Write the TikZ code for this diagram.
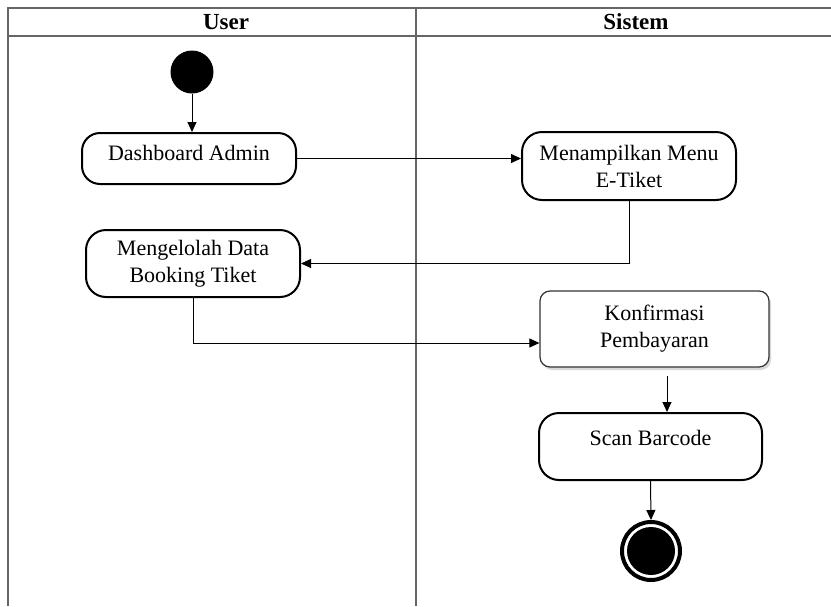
\documentclass[tikz,border=0pt]{standalone}
\usepackage{fontspec}
\setmainfont[Ligatures=NoCommon]{Liberation Serif}
\usetikzlibrary{arrows.meta,shadows}
\tikzset{
    aksi/.style={draw, line width=1pt, rounded corners=9pt, align=center, minimum width=107pt, inner xsep=2pt, font=\fontsize{11}{13.5}\selectfont}, % kotak aktivitas
    alur/.style={-{Triangle[length=5pt,width=4.5pt]}, line width=0.5pt}, % panah alur
    jalur/.style={draw=black!60, line width=0.8pt}
}

\begin{document}
\begin{tikzpicture}[x=0.5pt, y=-0.5pt]
    \useasboundingbox (0,0) rectangle (831,606);

    % swimlane
    \draw[jalur] (8,606) -- (8,8) -- (831,8);
    \draw[jalur] (8,36) -- (831,36);
    \draw[jalur] (416,8) -- (416,606);
    \node[font=\fontsize{11.5}{13}\selectfont\bfseries] (user) at (226,22) {User};
    \node[font=\fontsize{11.5}{13}\selectfont\bfseries] (sistem) at (636,22) {Sistem};

    \node[circle, fill, minimum size=21.5pt, inner sep=0pt] (mulai) at (192,72) {};
    \node[aksi, inner ysep=0pt, text height=13.75pt, text depth=11.75pt] (dash) at (189,158.5) {Dashboard Admin};
    \node[aksi, minimum height=34pt, rounded corners=10pt] (menu) at (629,166) {Menampilkan Menu\\E-Tiket};
    \node[aksi, minimum height=33.5pt, rounded corners=10pt] (book) at (193,263.5) {Mengelolah Data\\Booking Tiket};
    \node[aksi, minimum width=114.5pt, minimum height=38pt, rounded corners=5pt, line width=0.6pt, draw=black!80, fill=white,
          drop shadow={shadow xshift=1pt, shadow yshift=-1.5pt, opacity=0.3}] (konf) at (654.5,329) {Konfirmasi\\Pembayaran};
    \node[aksi, minimum width=111.5pt, rounded corners=10pt, inner ysep=0pt, text height=16pt, text depth=17.5pt] (scan) at (650.5,446.5) {Scan Barcode};
    \node[circle, draw, line width=2pt, minimum size=29pt, inner sep=0pt] (akhir) at (651,551) {};
    \node[circle, fill, minimum size=24pt, inner sep=0pt] (akhirisi) at (akhir) {};

    \coordinate (kbawah) at ([xshift=6.25pt,yshift=-4pt]konf.south);

    \draw[alur] (mulai) -- (mulai |- dash.north);
    \draw[alur] (dash.east) -- (dash.east -| menu.west);
    \draw[alur] (menu.south) |- (book.east);
    \draw[alur] (book.south) |- ([yshift=-7pt]konf.west);
    \draw[alur] (kbawah) -- (kbawah |- scan.north);
    \draw[alur] (scan.south) -- (akhir.north);
\end{tikzpicture}
\end{document}
